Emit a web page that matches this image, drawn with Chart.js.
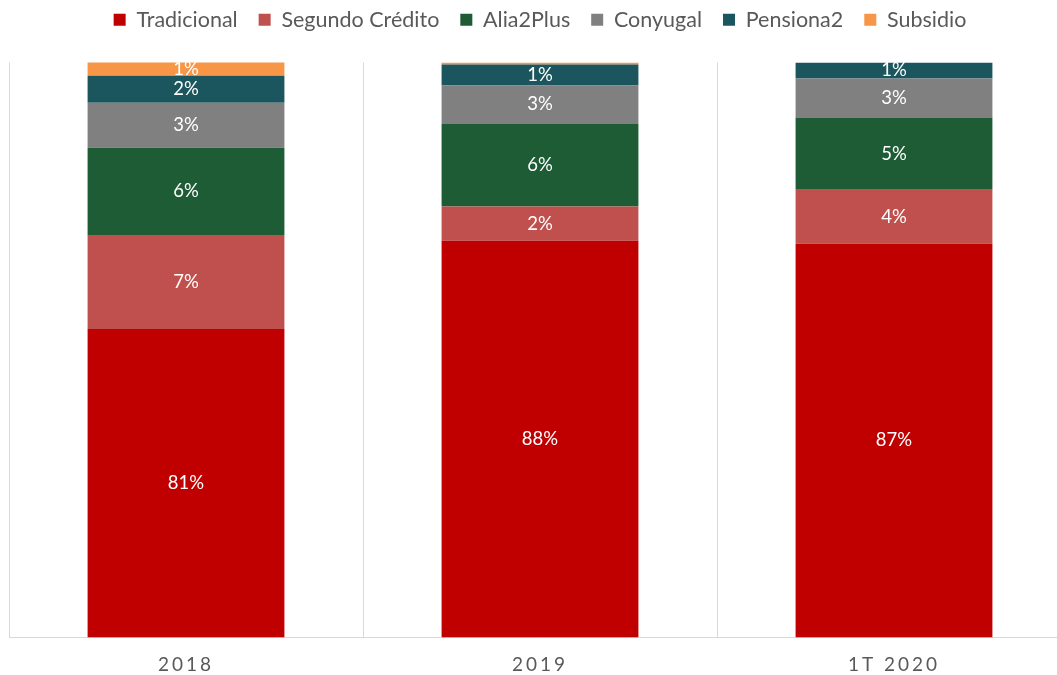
<!DOCTYPE html>
<html>
<head>
<meta charset="utf-8">
<script src="https://cdn.jsdelivr.net/npm/chart.js@4"></script>
<style>
  html, body { margin: 0; padding: 0; background: #fff; overflow: hidden; }
  #contenedor { width: 1071px; height: 692px; position: relative; }
</style>
</head>
<body>
<div id="contenedor"><canvas id="grafica"></canvas></div>
<script>
// Datos (participación % por producto)
const periodos = ['2018', '2019', '1T 2020'];
const tradicional = [81.45, 87.60, 87.39];
const segundoCredito = [6.55, 2.37, 3.76];
const alia2Plus = [6.06, 5.78, 5.02];
const conyugal = [3.14, 2.65, 2.72];
const pensiona2 = [1.88, 1.46, 1.11];
const subsidio = [0.98, 0.14, 0];

const FUENTE = 'Lato, "Noto Sans", sans-serif';
const GRIS_TEXTO = '#595959';

const series = [
  { label: 'Tradicional', data: tradicional, color: '#C00000' },
  { label: 'Segundo Crédito', data: segundoCredito, color: '#C0504D' },
  { label: 'Alia2Plus', data: alia2Plus, color: '#1D5C34' },
  { label: 'Conyugal', data: conyugal, color: '#808080' },
  { label: 'Pensiona2', data: pensiona2, color: '#1B565E' },
  { label: 'Subsidio', data: subsidio, color: '#F79646' },
];

// Etiquetas de porcentaje dentro de cada segmento (parte visible)
const etiquetasPlugin = {
  id: 'etiquetas',
  afterDatasetsDraw(chart) {
    const ctx = chart.ctx;
    const area = chart.chartArea;
    ctx.save();
    ctx.font = '18.5px ' + FUENTE;
    ctx.fillStyle = '#ffffff';
    ctx.textAlign = 'center';
    ctx.textBaseline = 'middle';
    chart.data.datasets.forEach((ds, i) => {
      const meta = chart.getDatasetMeta(i);
      meta.data.forEach((bar, j) => {
        const v = Math.round(ds.data[j]);
        if (v < 1) return;
        const arriba = Math.max(bar.y, area.top);
        const abajo = Math.min(bar.base, area.bottom);
        ctx.fillText(v + '%', bar.x, (arriba + abajo) / 2);
      });
    });
    ctx.restore();
  }
};

// Espaciado entre letras en el eje X y espacio extra bajo la leyenda
const ajustesPlugin = {
  id: 'ajustes',
  beforeLayout(chart) {
    const leyenda = chart.legend;
    if (leyenda && !leyenda._parcheada) {
      const fitOriginal = leyenda.fit;
      leyenda.fit = function () {
        fitOriginal.call(this);
        this.height += 22;
      };
      leyenda._parcheada = true;
    }
  },
  beforeDraw(chart) {
    const escala = chart.scales.x;
    if (escala._parcheado) return;
    const original = escala.drawLabels;
    escala.drawLabels = function (area) {
      const ctx = this.ctx;
      ctx.save();
      ctx.letterSpacing = '3px';
      original.call(this, area);
      ctx.restore();
    };
    escala._parcheado = true;
  }
};

new Chart(document.getElementById('grafica'), {
  type: 'bar',
  data: {
    labels: periodos,
    datasets: series.map(s => ({
      label: s.label,
      data: s.data,
      backgroundColor: s.color,
      borderWidth: 0,
      barPercentage: 1,
      categoryPercentage: 0.556,
    })),
  },
  options: {
    responsive: true,
    maintainAspectRatio: false,
    animation: false,
    layout: { padding: { left: 9, right: 0, top: -12, bottom: 0 } },
    plugins: {
      legend: {
        position: 'top',
        labels: {
          boxWidth: 12,
          boxHeight: 12,
          padding: 21,
          color: GRIS_TEXTO,
          font: { family: FUENTE, size: 21.5 },
        },
      },
      tooltip: { enabled: false },
    },
    scales: {
      x: {
        stacked: true,
        grid: { color: '#d9d9d9', offset: true, drawTicks: false },
        border: { color: '#d9d9d9' },
        ticks: { color: GRIS_TEXTO, padding: 16, font: { family: FUENTE, size: 19 } },
      },
      y: {
        stacked: true,
        display: false,
        min: 60,
        max: 100,
      },
    },
  },
  plugins: [etiquetasPlugin, ajustesPlugin],
});
</script>
</body>
</html>
